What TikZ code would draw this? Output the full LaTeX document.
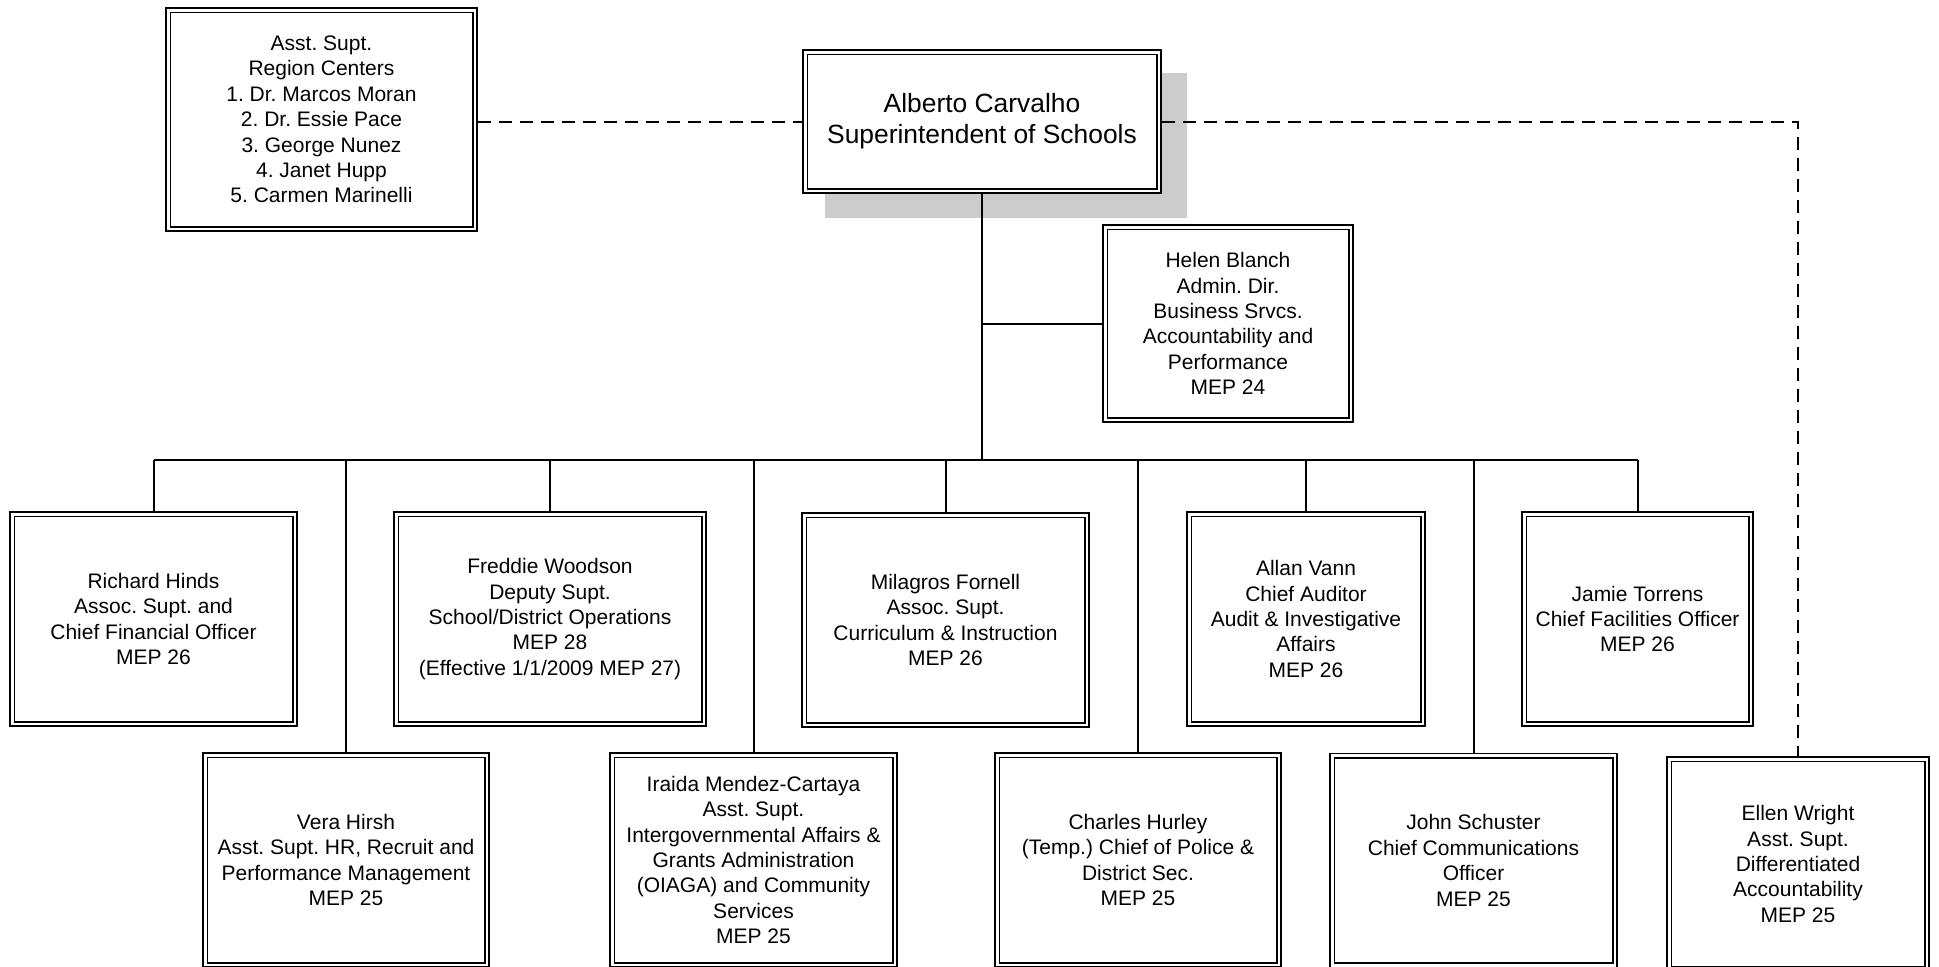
\documentclass[tikz,border=0pt]{standalone}
\usepackage{fontspec}
\setmainfont{Liberation Sans}
\frenchspacing
\definecolor{shadowgray}{RGB}{204,204,204}
\begin{document}
\begin{tikzpicture}[x=0.5pt,y=-0.5pt,
  box/.style={draw, double, double distance=1.4pt, line width=0.85pt, fill=white,
    align=center, inner sep=0pt, outer sep=1.55pt,
    font=\frenchspacing\fontsize{10.5pt}{12.7pt}\selectfont},
  topbox/.style={box, minimum height=104.9pt},
  conn/.style={line width=1pt},
  dashconn/.style={line width=1pt, dash pattern=on 6.5pt off 4pt}]
\path[use as bounding box, clip] (0,0) rectangle (1939,966);
\fill[white] (0,0) rectangle (1939,966);

% shadow of superintendent box
\fill[shadowgray] (825,73) rectangle (1187,218);

\node[box, minimum width=153.4pt, minimum height=109.4pt] (region) at (321.5,119.5)
  {Asst. Supt.\\Region Centers\\1. Dr. Marcos Moran\\2. Dr. Essie Pace\\3. George Nunez\\4. Janet Hupp\\5. Carmen Marinelli};

\node[box, minimum width=176.9pt, minimum height=69.4pt,
  font=\frenchspacing\fontsize{13.2pt}{15.6pt}\selectfont] (sup) at (982,121.5)
  {Alberto Carvalho\\Superintendent of Schools};

\node[box, minimum width=122.9pt, minimum height=96.4pt] (helen) at (1228,323.5)
  {Helen Blanch\\Admin. Dir.\\Business Srvcs.\\Accountability and\\Performance\\MEP 24};

% top row
\node[topbox, minimum width=141.4pt] (richard) at (153.5,619)
  {Richard Hinds\\Assoc. Supt. and\\Chief Financial Officer\\MEP 26};
\node[topbox, minimum width=153.9pt] (freddie) at (550,619)
  {Freddie Woodson\\Deputy Supt.\\School/District Operations\\MEP 28\\(Effective 1/1/2009 MEP 27)};
\node[topbox, minimum width=141.4pt] (milagros) at (945.5,620)
  {Milagros Fornell\\Assoc. Supt.\\Curriculum \& Instruction\\MEP 26};
\node[topbox, minimum width=116.9pt] (allan) at (1306,619)
  {Allan Vann\\Chief Auditor\\Audit \& Investigative\\Affairs\\MEP 26};
\node[topbox, minimum width=113.4pt] (jamie) at (1637.5,619)
  {Jamie Torrens\\Chief Facilities Officer\\MEP 26};

% bottom row
\node[topbox, minimum width=140.9pt] (vera) at (346,860)
  {Vera Hirsh\\Asst. Supt. HR, Recruit and\\Performance Management\\MEP 25};
\node[topbox, minimum width=141.4pt] (iraida) at (753.5,860)
  {Iraida Mendez-Cartaya\\Asst. Supt.\\Intergovernmental Affairs \&\\Grants Administration\\(OIAGA) and Community\\Services\\MEP 25};
\node[topbox, minimum width=140.9pt] (charles) at (1138,860)
  {Charles Hurley\\(Temp.) Chief of Police \&\\District Sec.\\MEP 25};
\node[topbox, minimum width=141.4pt] (john) at (1473.5,860.5)
  {John Schuster\\Chief Communications\\Officer\\MEP 25};
\node[topbox, minimum width=128.9pt] (ellen) at (1798,864)
  {Ellen Wright\\Asst. Supt.\\Differentiated\\Accountability\\MEP 25};

% bus
\coordinate (busL) at (153.5,460);
\coordinate (busR) at (1637.5,460);
\draw[conn] (busL) -- (busR);
\draw[conn] (sup.south) -- (sup.south |- busL);
\draw[conn] (helen.west -| sup.south) -- (helen.west);

\foreach \n in {richard,freddie,milagros,allan,jamie,vera,iraida,charles,john}
  \draw[conn] (\n.north |- busL) -- (\n.north);

% dashed links
\draw[dashconn] (region.east |- sup.west) -- (sup.west);
\draw[dashconn] (sup.east) -- (sup.east -| ellen.north) -- (ellen.north);
\end{tikzpicture}
\end{document}
